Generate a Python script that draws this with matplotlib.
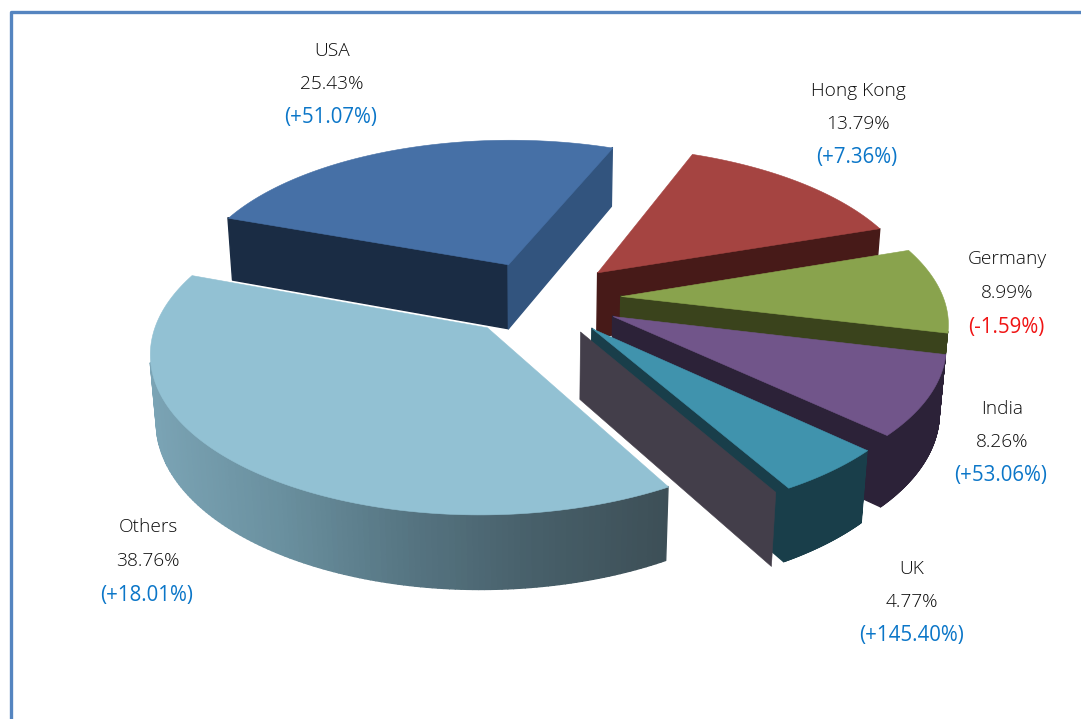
import numpy as np
import matplotlib
matplotlib.use("Agg")
import matplotlib.pyplot as plt
from matplotlib.collections import PolyCollection
from matplotlib.colors import LinearSegmentedColormap

countries = ["USA", "Hong Kong", "Germany", "India", "UK", "Others"]
shares = [25.43, 13.79, 8.99, 8.26, 4.77, 38.76]
growth = [51.07, 7.36, -1.59, 53.06, 145.40, 18.01]

top_colors = ["#4670a6", "#a54441", "#89a34d", "#71558a", "#4093ad", "#92c1d3"]
side_colors = ["#1a2c44", "#471a18", "#3a431c", "#2c2238", "#193e4a", "#3e5058"]
end_colors = ["#32547e", "#471a18", "#3a431c", "#2c2238", "#193e4a", "#3e5058"]
label_x = [332, 858, 1007, 1002, 912, 148]
label_y = [50.5, 90.5, 259.5, 408.5, 568.5, 527.5]

# camera used to project the pie plane onto the page
CX, CY = 540.34, 297.71
SCALE_X, SCALE_Y = 322.88, 151.09
SKEW_X, SKEW_Y = 1.80, 1.68
PERSP = 0.1424
DEPTH = 67.0
DEPTH_PERSP = 0.016
START = 160.56
EXPLODE = 0.25


def project(x, y, z=0.0):
    w = 1 + PERSP * y + DEPTH_PERSP * z
    return np.column_stack([CX + (SCALE_X * x + SKEW_X * y) / w,
                            CY + (SKEW_Y * x - SCALE_Y * y + DEPTH * z) / w])


def area(poly):
    x, y = poly[:, 0], poly[:, 1]
    return 0.5 * np.sum(x * np.roll(y, -1) - np.roll(x, -1) * y)


def add_polys(ax, polys, colors, lw=0.4):
    ax.add_collection(PolyCollection(polys, facecolors=colors, edgecolors=colors, linewidths=lw))


def draw_slice(ax, a1, a2, top_c, side_c, end_c, cmap=None):
    mid = np.radians((a1 + a2) / 2)
    x0, y0 = EXPLODE * np.cos(mid), EXPLODE * np.sin(mid)
    t = np.radians(np.linspace(a1, a2, 160))
    x = np.r_[x0, x0 + np.cos(t)]
    y = np.r_[y0, y0 + np.sin(t)]
    top = project(x, y)
    low = project(x, y, 1.0)
    sign = np.sign(area(top))

    # only the walls that face the viewer get drawn
    polys, colors = [], []
    n = len(top)
    for i in range(n):
        j = (i + 1) % n
        quad = np.array([top[i], top[j], low[j], low[i]])
        if np.sign(area(quad)) == sign:
            continue
        polys.append(quad)
        if cmap is not None:
            colors.append(cmap(np.clip((quad[:, 0].mean() - 150) / 515, 0, 1)))
        elif i == n - 1:
            colors.append(end_c)
        else:
            colors.append(side_c)
    add_polys(ax, polys, colors, lw=1.0)
    add_polys(ax, [top], [top_c])
    return x0, y0, t


fig = plt.figure(figsize=(10.81, 7.19), dpi=100)
ax = fig.add_axes([0, 0, 1, 1])
ax.set_xlim(0, 1081)
ax.set_ylim(719, 0)
ax.axis("off")

# border, open on the right and bottom
ax.plot([10.5, 10.5, 1081], [719, 12.3, 12.3], color="#5585c0", lw=2.4, solid_joinstyle="round")

others_cmap = LinearSegmentedColormap.from_list(
    "others", ["#7ba4b5", "#6a909f", "#567582", "#475f69", "#3d4f57"])

spans = np.array(shares) / sum(shares) * 360
angle = START
for i, name in enumerate(countries):
    a1, a2 = angle, angle - spans[i]
    x0, y0, t = draw_slice(ax, a1, a2, top_colors[i], side_colors[i], end_colors[i],
                           others_cmap if name == "Others" else None)
    if name == "UK":
        # grey panel standing just off the slice's cut edge
        px = np.array([x0, x0 + np.cos(t[-1])]) - 0.036
        py = np.array([y0, y0 + np.sin(t[-1])]) - 0.02
        panel = np.vstack([project(px, py), project(px, py, 1.0)[::-1]])
        add_polys(ax, [panel], ["#433e4a"])
    angle = a2

plt.rcParams["font.family"] = ["Open Sans", "DejaVu Sans"]
for i, name in enumerate(countries):
    g_color = "#f01414" if growth[i] < 0 else "#0b76c8"
    ax.text(label_x[i], label_y[i], name, ha="center", va="center", fontsize=13.8,
            color="#0c0c0c", fontweight="light")
    ax.text(label_x[i], label_y[i] + 33.5, f"{shares[i]:.2f}%", ha="center", va="center",
            fontsize=13.8, color="#0c0c0c", fontweight="light")
    ax.text(label_x[i] - 1, label_y[i] + 67.5, f"({growth[i]:+.2f}%)", ha="center", va="center",
            fontsize=14.8, color=g_color)

fig.savefig("out.png", dpi=100)
